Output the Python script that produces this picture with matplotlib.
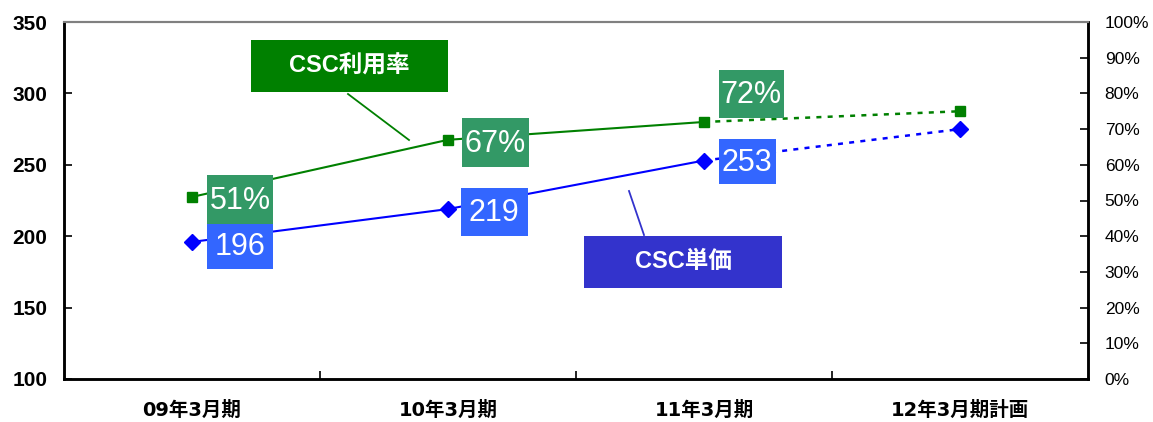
import matplotlib
matplotlib.use("Agg")
import matplotlib.pyplot as plt
from matplotlib.patches import Rectangle
from matplotlib.lines import Line2D
from matplotlib.transforms import IdentityTransform, ScaledTranslation

# ---- data ----
categories = ["09年3月期", "10年3月期", "11年3月期", "12年3月期計画"]
unit_price = [196, 219, 253, 275]        # CSC単価 (left axis)
usage_rate = [0.51, 0.67, 0.72, 0.75]    # CSC利用率 (right axis)
price_labels = ["196", "219", "253"]
rate_labels = ["51%", "67%", "72%"]

# fonts
plt.rcParams["font.family"] = ["Liberation Sans", "Noto Sans CJK JP", "DejaVu Sans"]

W, H = 1153, 422
fig = plt.figure(figsize=(W / 100, H / 100), dpi=100)
ax = fig.add_axes([64 / W, 1 - 379 / H, (1088 - 64) / W, (379 - 22) / H])
ax2 = ax.twinx()

x = list(range(len(categories)))
blue = "#0000FF"
green = "#008000"

# solid part (actual) and dotted part (plan)
ax.plot(x[:3], unit_price[:3], color=blue, lw=1.5, marker="D", ms=8, zorder=3)
ax.plot(x[2:], unit_price[2:], color=blue, lw=1.8, ls=(0, (2, 2.5)), zorder=2)
ax.plot(x[3:], unit_price[3:], color=blue, lw=0, marker="D", ms=8, zorder=3)

ax2.plot(x[:3], usage_rate[:3], color=green, lw=1.5, marker="s", ms=7.5, zorder=3)
ax2.plot(x[2:], usage_rate[2:], color=green, lw=1.8, ls=(0, (2, 2.5)), zorder=2)
ax2.plot(x[3:], usage_rate[3:], color=green, lw=0, marker="s", ms=7.5, zorder=3)

# axes
ax.set_xlim(-0.5, 3.5)
ax.set_ylim(100, 350)
ax.set_yticks(range(100, 351, 50))
ax2.set_ylim(0, 1)
ax2.set_yticks([i / 10 for i in range(11)])
ax2.set_yticklabels([f"{i * 10}%" for i in range(11)])

ax.set_xticks([0.5, 1.5, 2.5])
ax.set_xticklabels([])
ax.set_xticks(x, minor=True)
ax.set_xticklabels(categories, minor=True, fontsize=14, fontweight="bold",
                   family=["DejaVu Sans", "Noto Sans CJK JP"])
ax.tick_params(axis="x", which="major", direction="in", length=6, width=1.2)
ax.tick_params(axis="x", which="minor", length=0, pad=16)
ax.tick_params(axis="y", direction="in", length=6, width=1.2, pad=12, labelsize=15)
for lab in ax.get_yticklabels():
    lab.set_fontweight("bold")
ax2.tick_params(axis="y", direction="in", length=6, width=1.2, pad=12, labelsize=12.5)

for a in (ax, ax2):
    a.spines["top"].set_color("#808080")
    a.spines["top"].set_linewidth(1.5)
    for s in ("left", "right", "bottom"):
        a.spines[s].set_linewidth(1.8)
        a.spines[s].set_color("black")


# value boxes: fixed pixel size, placed relative to the data point
def value_box(a, xd, yd, text, off, size, color):
    trans = IdentityTransform() + ScaledTranslation(xd, yd, a.transData)
    w, h = size
    rect = Rectangle((off[0] - w / 2, off[1] - h / 2), w, h, transform=trans,
                     fc=color, ec="none", zorder=10, clip_on=False)
    ax2.add_artist(rect)
    ax2.text(off[0], off[1] - 1, text, transform=trans, ha="center", va="center",
             color="white", fontsize=22, zorder=11, clip_on=False)


price_offsets = [(48, -4), (46, -3), (43, -1)]
price_sizes = [(66, 47), (67, 48), (57, 45)]
rate_offsets = [(48, -3), (47, -3), (47, 28)]
rate_sizes = [(66, 49), (67, 49), (65, 48)]
for i, lab in enumerate(price_labels):
    value_box(ax, i, unit_price[i], lab, price_offsets[i], price_sizes[i], "#3366FF")
for i, lab in enumerate(rate_labels):
    value_box(ax2, i, usage_rate[i], lab, rate_offsets[i], rate_sizes[i], "#339966")


# series callouts (pixel positions in figure)
def fx(px):
    return px / W


def fy(py):
    return 1 - py / H


def callout(text, x0, y0, x1, y1, color, line):
    fig.add_artist(Line2D([fx(line[0]), fx(line[2])], [fy(line[1]), fy(line[3])],
                          color=color, lw=1.3))
    fig.add_artist(Rectangle((fx(x0), fy(y1)), fx(x1) - fx(x0), fy(y0) - fy(y1),
                             transform=fig.transFigure, fc=color, ec="none"))
    fig.text((fx(x0) + fx(x1)) / 2, (fy(y0) + fy(y1)) / 2, text, color="white",
             fontsize=17, fontweight="bold", ha="center", va="center")


callout("CSC利用率", 251, 40, 448, 92, green, (348, 94, 409, 140))
callout("CSC単価", 584, 236, 782, 288, "#3333CC", (629, 191, 644, 235))

fig.savefig("out.png", dpi=100)
